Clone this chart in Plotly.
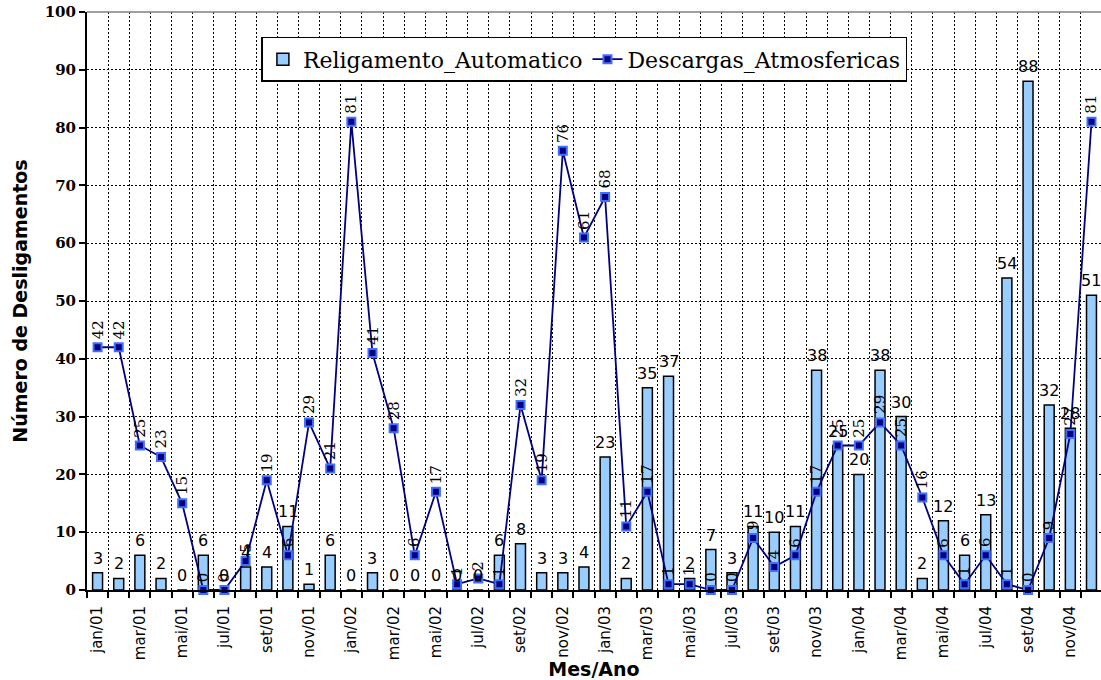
import plotly.graph_objects as go

months = ["jan/01","fev/01","mar/01","abr/01","mai/01","jun/01","jul/01","ago/01","set/01","out/01","nov/01","dez/01",
          "jan/02","fev/02","mar/02","abr/02","mai/02","jun/02","jul/02","ago/02","set/02","out/02","nov/02","dez/02",
          "jan/03","fev/03","mar/03","abr/03","mai/03","jun/03","jul/03","ago/03","set/03","out/03","nov/03","dez/03",
          "jan/04","fev/04","mar/04","abr/04","mai/04","jun/04","jul/04","ago/04","set/04","out/04","nov/04","dez/04"]

religamento = [3, 2, 6, 2, 0, 6, 0, 4, 4, 11, 1, 6,
               0, 3, 0, 0, 0, 0, 0, 6, 8, 3, 3, 4,
               23, 2, 35, 37, 2, 7, 3, 11, 10, 11, 38, 25,
               20, 38, 30, 2, 12, 6, 13, 54, 88, 32, 28, 51]

descargas = [42, 42, 25, 23, 15, 0, 0, 5, 19, 6, 29, 21,
             81, 41, 28, 6, 17, 1, 2, 1, 32, 19, 76, 61,
             68, 11, 17, 1, 1, 0, 0, 9, 4, 6, 17, 25,
             25, 29, 25, 16, 6, 1, 6, 1, 0, 9, 27, 81]

x = list(range(len(months)))

SANS = "DejaVu Sans, Liberation Sans, Arial"
SERIF = "DejaVu Serif, Liberation Serif, Times New Roman"

fig = go.Figure()
fig.add_trace(go.Bar(
    x=x, y=religamento, name="Religamento_Automatico", width=0.47,
    marker=dict(color="#99CCFF", line=dict(color="black", width=1.5)),
))
fig.add_trace(go.Scatter(
    x=x, y=descargas, name="Descargas_Atmosfericas", mode="lines+markers",
    line=dict(color="#000080", width=1.8),
    marker=dict(symbol="square", size=8, color="#000080", line=dict(color="#3F6FFF", width=2)),
    cliponaxis=False,
))

annotations = []
for i, v in enumerate(religamento):
    annotations.append(dict(x=i, y=v, xref="x", yref="y", text=str(v), showarrow=False,
                            yanchor="bottom", xanchor="center", yshift=3,
                            font=dict(family=SANS, size=16, color="black")))
for i, v in enumerate(descargas):
    annotations.append(dict(x=i, y=v, xref="x", yref="y", text=str(v), showarrow=False,
                            textangle=-90, yanchor="bottom", xanchor="center", yshift=6,
                            font=dict(family=SERIF, size=15, color="black")))

fig.update_layout(
    width=1101, height=680,
    margin=dict(l=87, r=0, t=12, b=90),
    plot_bgcolor="white", paper_bgcolor="white",
    showlegend=True,
    legend=dict(orientation="h", x=0.172, y=0.957, xanchor="left", yanchor="top",
                bgcolor="white", bordercolor="black", borderwidth=1.5,
                font=dict(family=SERIF, size=22, color="black"),
                traceorder="normal"),
    annotations=annotations,
    shapes=[dict(type="line", xref="paper", yref="paper", x0=0, x1=1, y0=1, y1=1,
                 line=dict(color="#808080", width=1.5))],
)

fig.update_xaxes(
    range=[-0.5, 47.45],
    tickmode="array", tickvals=x[::2], ticktext=months[::2],
    tickangle=-90, ticks="", ticklabelstandoff=8,
    tickfont=dict(family=SANS, size=15, color="black"),
    showgrid=False, zeroline=False,
    showline=True, linecolor="black", linewidth=2,
    minor=dict(tickmode="array", tickvals=[k - 0.5 for k in range(len(months) + 1)],
               ticks="outside", ticklen=6, tickcolor="black", tickwidth=1.5,
               showgrid=True, gridcolor="black", gridwidth=1, griddash="2px,2px"),
    title=dict(text="<b>Mes/Ano</b>", standoff=0,
               font=dict(family=SANS, size=19, color="black")),
)
fig.update_yaxes(
    range=[0, 100], tickmode="linear", tick0=0, dtick=10,
    ticks="outside", ticklen=6, tickcolor="black", tickwidth=1.5,
    tickfont=dict(family=SERIF, size=15, color="black", weight="bold"),
    showgrid=True, gridcolor="black", gridwidth=1, griddash="2px,2px",
    zeroline=False, showline=True, linecolor="black", linewidth=2,
    title=dict(text="<b>Número de Desligamentos</b>", standoff=12,
               font=dict(family=SANS, size=19, color="black")),
)

fig.write_html("out.html")
